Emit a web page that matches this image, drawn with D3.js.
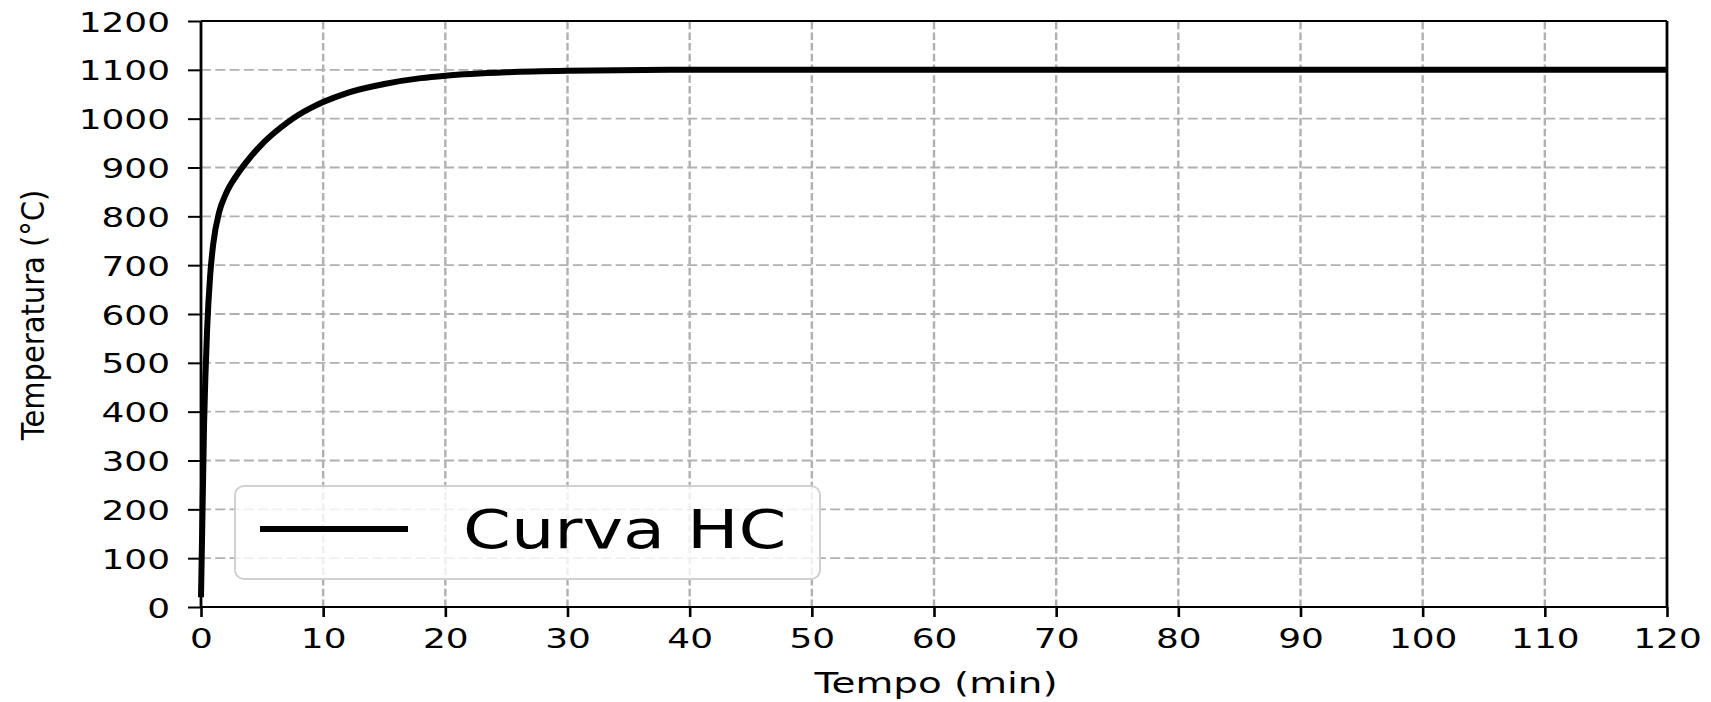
<!DOCTYPE html>
<meta charset="UTF-8">
<head>
  <script src="https://cdnjs.cloudflare.com/ajax/libs/d3/7.8.5/d3.min.js"></script>
</head>
<title>Curva HC</title>
<style>
  body { margin: 0; background: #fff; }
  text { font-family: "DejaVu Sans", sans-serif; fill: #000; }
</style>
<body>
<div id="chart"></div>
<script>
// values
var tempo = [0, 0.25, 0.5, 0.75, 1, 1.5, 2, 3, 4, 5, 6, 7, 8, 9, 10, 12, 15, 18, 20, 25, 30, 40, 60, 80, 100, 120];
var temperatura = [20, 373, 568, 679, 743, 810, 844, 887, 920, 948, 971, 991, 1008, 1022, 1034, 1053, 1071, 1083, 1088, 1095, 1098, 1100, 1100, 1100, 1100, 1100];
var xTicks = [0, 10, 20, 30, 40, 50, 60, 70, 80, 90, 100, 110, 120];
var yTicks = [0, 100, 200, 300, 400, 500, 600, 700, 800, 900, 1000, 1100, 1200];
var serieNome = "Curva HC";

var width = 1711, height = 702;
var margin = {left: 201, top: 21, right: 44, bottom: 95};

var svg = d3.select("#chart").append("svg")
  .attr("width", width).attr("height", height);

var x = d3.scaleLinear().domain([0, 120]).range([margin.left, width - margin.right]);
var y = d3.scaleLinear().domain([0, 1200]).range([height - margin.bottom, margin.top]);

// grid
svg.append("g").selectAll("line").data(xTicks.slice(1, -1)).enter().append("line")
  .attr("x1", d => x(d)).attr("x2", d => x(d))
  .attr("y1", y(0)).attr("y2", y(1200))
  .attr("stroke", "#b0b0b0").attr("stroke-width", 2.4)
  .attr("stroke-dasharray", "7.5,3.2");
svg.append("g").selectAll("line").data(yTicks.slice(1, -1)).enter().append("line")
  .attr("x1", x(0)).attr("x2", x(120))
  .attr("y1", d => y(d)).attr("y2", d => y(d))
  .attr("stroke", "#b0b0b0").attr("stroke-width", 1.8)
  .attr("stroke-dasharray", "10,4.3");

// curve
var line = d3.line()
  .x((d, i) => x(tempo[i]))
  .y(d => y(d))
  .curve(d3.curveMonotoneX);
svg.append("path")
  .attr("d", line(temperatura))
  .attr("fill", "none").attr("stroke", "#000")
  .attr("stroke-width", 6).attr("stroke-linejoin", "round");

// axes
var xAxis = svg.append("g")
  .attr("transform", "translate(0," + y(0) + ")")
  .call(d3.axisBottom(x).tickValues(xTicks).tickSize(10).tickFormat(d3.format("d")));
xAxis.select(".domain").remove();
xAxis.selectAll(".tick line").attr("stroke-width", 2.6);
xAxis.selectAll(".tick text")
  .attr("y", null).attr("dy", null)
  .attr("font-size", 27).attr("font-family", "DejaVu Sans")
  .attr("transform", "translate(0,41) scale(1.33,1)");

var yAxis = svg.append("g")
  .attr("transform", "translate(" + x(0) + ",0)")
  .call(d3.axisLeft(y).tickValues(yTicks).tickSize(13).tickFormat(d3.format("d")));
yAxis.select(".domain").remove();
yAxis.selectAll(".tick line").attr("stroke-width", 2);
yAxis.selectAll(".tick text")
  .attr("x", null).attr("dy", null)
  .attr("font-size", 27).attr("font-family", "DejaVu Sans")
  .attr("transform", "translate(-31,10) scale(1.33,1)");

// frame
svg.append("line").attr("x1", x(0)).attr("x2", x(120)).attr("y1", y(0)).attr("y2", y(0))
  .attr("stroke", "#000").attr("stroke-width", 2);
svg.append("line").attr("x1", x(0)).attr("x2", x(120)).attr("y1", y(1200)).attr("y2", y(1200))
  .attr("stroke", "#000").attr("stroke-width", 2);
svg.append("line").attr("x1", x(0)).attr("x2", x(0)).attr("y1", y(0)).attr("y2", y(1200))
  .attr("stroke", "#000").attr("stroke-width", 2.8);
svg.append("line").attr("x1", x(120)).attr("x2", x(120)).attr("y1", y(0)).attr("y2", y(1200))
  .attr("stroke", "#000").attr("stroke-width", 2.8);

// axis labels
svg.append("text")
  .attr("transform", "translate(" + ((x(0) + x(120)) / 2 + 2) + ",693) scale(1.34,1)")
  .attr("text-anchor", "middle").attr("font-size", 29)
  .text("Tempo (min)");
svg.append("text")
  .attr("transform", "translate(44," + ((y(0) + y(1200)) / 2 + 1) + ") rotate(-90) scale(1,1.1)")
  .attr("text-anchor", "middle").attr("font-size", 29)
  .text("Temperatura (°C)");

// legend
var lg = svg.append("g");
lg.append("rect")
  .attr("x", 235).attr("y", 486).attr("width", 585).attr("height", 93)
  .attr("rx", 9).attr("ry", 9)
  .attr("fill", "rgba(255,255,255,0.8)").attr("stroke", "#d0d0d0").attr("stroke-width", 2);
lg.append("line")
  .attr("x1", 260).attr("x2", 408).attr("y1", 529).attr("y2", 529)
  .attr("stroke", "#000").attr("stroke-width", 6);
lg.append("text")
  .attr("transform", "translate(463,548) scale(1.27,1)")
  .attr("font-size", 54)
  .text(serieNome);
</script>
</body>
